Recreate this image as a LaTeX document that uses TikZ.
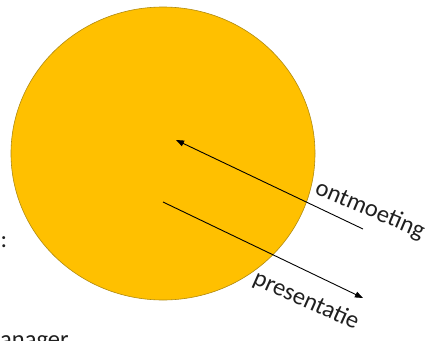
\documentclass[tikz,border=0pt]{standalone}
\usepackage{fontspec}
\setmainfont{Carlito}
\usetikzlibrary{arrows.meta,shapes.geometric}
\definecolor{gold}{HTML}{FFC000}
\definecolor{goldedge}{HTML}{B08A10}
\tikzset{
  lbl/.style={font=\fontsize{24.5}{27}\selectfont, text=black!88, inner sep=0pt},
  arr/.style={draw=black, line width=0.9pt, -{Triangle[length=8pt,width=6pt]}},
}
\begin{document}
\begin{tikzpicture}[x=1pt,y=-1pt]
\useasboundingbox (0,0) rectangle (428,340);
\clip (0,0) rectangle (428,340);
\node[ellipse, draw=goldedge, fill=gold, line width=0.6pt, minimum width=304pt, minimum height=293pt, inner sep=0pt] (sun) at (163,153.5) {};
\coordinate (a1s) at (363,229);
\coordinate (a1e) at (176,140);
\coordinate (a2s) at (163,202);
\coordinate (a2e) at (363,298);
\draw[arr] (a1s) -- (a1e);
\draw[arr] (a2s) -- (a2e);
\node[lbl, rotate=-23] (ont) at (370,210) {ontmoeting};
\node[lbl, rotate=-24] (pres) at (306,301) {presentatie};
\node[lbl, anchor=center] (colon) at (4,242) {:};
\node[lbl, anchor=base west] (mgr) at (0,347) {anager};
\end{tikzpicture}
\end{document}
